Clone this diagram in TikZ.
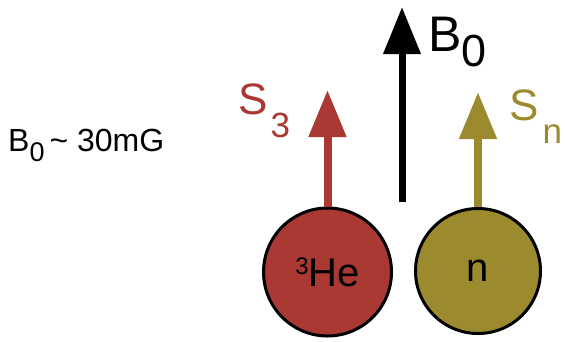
\documentclass[tikz,border=0pt]{standalone}
\usepackage{fontspec}
\setmainfont{Liberation Sans}
\usepackage{graphicx}
\usetikzlibrary{arrows.meta}
\definecolor{heRed}{RGB}{170,56,51}
\definecolor{nOlive}{RGB}{156,139,46}
% lowered index: size, drop, text
\newcommand\lowsub[3]{\raisebox{-#2}{\fontsize{#1}{#1}\selectfont #3}}
\newcommand\highsup[3]{\raisebox{#2}{\fontsize{#1}{#1}\selectfont #3}}
\begin{document}
\begin{tikzpicture}[x=1pt,y=-1pt,
  ball/.style={circle,draw=black,line width=3pt,inner sep=0pt,
    font=\fontsize{40}{40}\selectfont},
  spin/.style={line width=8pt,-{Triangle[width=36pt,length=47pt]}},
  lbl/.style={inner sep=0pt,anchor=base west}]
\useasboundingbox (0,0) rectangle (565,341);

% particles
\node[ball,fill=heRed,minimum size=128pt] (he) at (327.5,272) {\highsup{24pt}{12pt}{3}He};
\node[ball,fill=nOlive,minimum size=125pt] (n) at (478,271) {n};

% arrow end points
\coordinate (s3tip) at (327.5,90);
\coordinate (sntip) at (478,92);
\coordinate (bbase) at (402,202);
\coordinate (btip) at (402,7);

% spins and field
\draw[spin,heRed] (he.north) -- (s3tip);
\draw[spin,nOlive] (n.north) -- (sntip);
\draw[spin,line width=7pt,black] (bbase) -- (btip);

% labels
\node[lbl,text=heRed,font=\fontsize{44}{44}\selectfont] (s3) at (238,114) {S\kern3pt\lowsub{35pt}{23pt}{3}};
\node[lbl,text=nOlive,font=\fontsize{44}{44}\selectfont] (sn) at (509,120) {S\kern4pt\lowsub{35pt}{23pt}{n}};
\node[lbl,font=\fontsize{50}{50}\selectfont] (b0) at (428,51) {B\lowsub{45pt}{15pt}{0}};
\node[lbl,font=\fontsize{32}{32}\selectfont] (field) at (8,151) {B\lowsub{27pt}{10pt}{0}\kern5pt\textasciitilde\ 30mG};
\end{tikzpicture}
\end{document}
